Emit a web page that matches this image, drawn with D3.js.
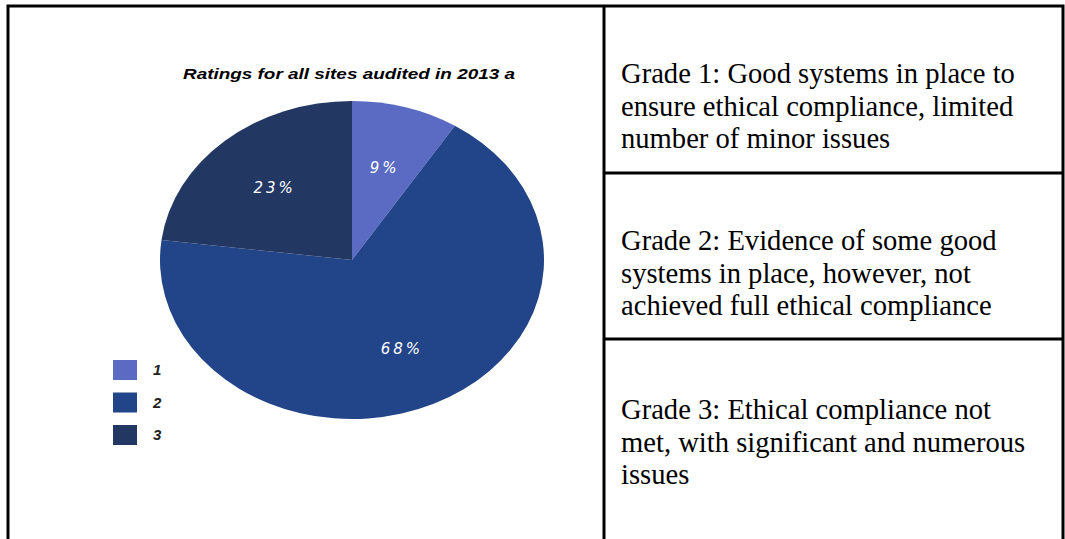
<!DOCTYPE html>
<html>
<head>
<meta charset="utf-8">
<script src="https://cdn.jsdelivr.net/npm/d3@7"></script>
<style>
  html, body { margin: 0; padding: 0; background: #fff; }
  svg { display: block; }
</style>
</head>
<body>
<svg id="chart" width="1065" height="539"></svg>
<script>
// chart data
var grades = ["1", "2", "3"];
var shares = [9, 68, 23];
var sliceColors = ["#5b6bc4", "#224488", "#233763"];
var chartTitle = "Ratings for all sites audited in 2013 a";

// table text, one array per cell
var grade1Lines = ["Grade 1: Good systems in place to", "ensure ethical compliance, limited", "number of minor issues"];
var grade2Lines = ["Grade 2: Evidence of some good", "systems in place, however, not", "achieved full ethical compliance"];
var grade3Lines = ["Grade 3: Ethical compliance not", "met, with significant and numerous", "issues"];

var svg = d3.select("#chart");

// --- table borders ---
var oBorder = svg.append("g")
	.attr("stroke", "#000")
	.attr("stroke-width", 3)
	.attr("fill", "none");

oBorder.append("path").attr("d", "M8,545 V6 H1063 V545");
oBorder.append("line").attr("x1", 604).attr("x2", 604).attr("y1", 6).attr("y2", 545);
oBorder.append("line").attr("x1", 604).attr("x2", 1063).attr("y1", 173).attr("y2", 173);
oBorder.append("line").attr("x1", 604).attr("x2", 1063).attr("y1", 339).attr("y2", 339);

// --- right column text ---
var aCells = [
	{lines: grade1Lines, y: 83},
	{lines: grade2Lines, y: 250},
	{lines: grade3Lines, y: 419}
];

aCells.forEach(function (oCell) {
	svg.append("g").selectAll("text")
		.data(oCell.lines)
		.join("text")
		.attr("x", 621)
		.attr("y", function (d, i) { return oCell.y + i * 32.6; })
		.attr("font-family", "'Liberation Serif', 'Times New Roman', serif")
		.attr("font-size", 28.6)
		.attr("fill", "#000")
		.text(function (d) { return d; });
});

// --- pie (elliptical) ---
var cx = 352, cy = 260, ry = 159, fStretch = 192 / 159;

var pie = d3.pie().sort(null).value(function (d) { return d; });
var arcs = pie(shares);
var arc = d3.arc().innerRadius(0).outerRadius(ry);
var labelArc = d3.arc().innerRadius(0).outerRadius(ry * 1.22);

var gPie = svg.append("g")
	.attr("transform", "translate(" + cx + "," + cy + ") scale(" + fStretch + ",1)");

gPie.selectAll("path")
	.data(arcs)
	.join("path")
	.attr("d", arc)
	.attr("fill", function (d, i) { return sliceColors[i]; });

svg.append("g").selectAll("text")
	.data(arcs)
	.join("text")
	.attr("x", function (d) { return cx + labelArc.centroid(d)[0] * fStretch; })
	.attr("y", function (d) { return cy + labelArc.centroid(d)[1] + 6; })
	.attr("text-anchor", "middle")
	.attr("font-family", "'DejaVu Sans', sans-serif")
	.attr("font-style", "italic")
	.attr("font-size", 15)
	.attr("letter-spacing", 3)
	.attr("fill", "#fff")
	.text(function (d) { return d.data + "%"; });

// --- title ---
svg.append("text")
	.attr("x", 183)
	.attr("y", 79)
	.attr("textLength", 332)
	.attr("lengthAdjust", "spacingAndGlyphs")
	.attr("font-family", "'Liberation Sans', Arial, sans-serif")
	.attr("font-style", "italic")
	.attr("font-weight", "bold")
	.attr("font-size", 15)
	.attr("fill", "#000")
	.text(chartTitle);

// --- legend ---
var gLegend = svg.append("g").attr("transform", "translate(113,360)");
var oItems = gLegend.selectAll("g")
	.data(grades)
	.join("g")
	.attr("transform", function (d, i) { return "translate(0," + (i * 32.5) + ")"; });

oItems.append("rect")
	.attr("width", 24)
	.attr("height", 20)
	.attr("fill", function (d, i) { return sliceColors[i]; });

oItems.append("text")
	.attr("x", 40)
	.attr("y", 15)
	.attr("font-family", "'Liberation Sans', Arial, sans-serif")
	.attr("font-style", "italic")
	.attr("font-weight", "bold")
	.attr("font-size", 15)
	.attr("fill", "#222")
	.text(function (d) { return d; });
</script>
</body>
</html>
